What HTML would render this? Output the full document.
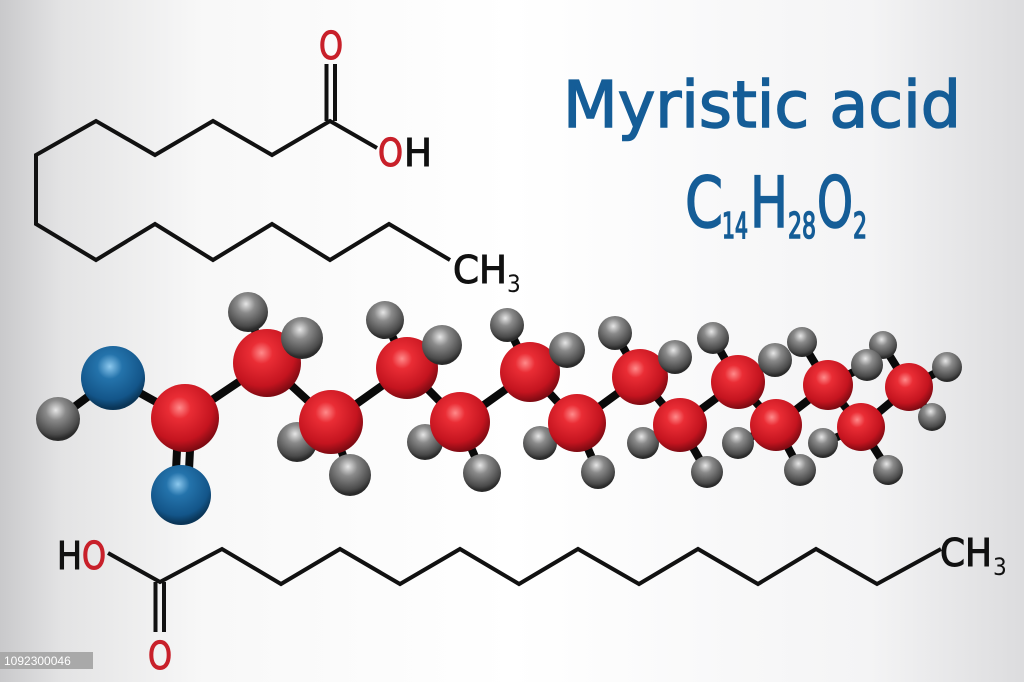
<!DOCTYPE html>
<html><head><meta charset="utf-8"><style>
html,body{margin:0;padding:0;}
body{width:1024px;height:682px;overflow:hidden;}
svg{display:block;}
</style></head><body>
<svg width="1024" height="682" viewBox="0 0 1024 682" xmlns="http://www.w3.org/2000/svg">
<defs>
<linearGradient id="bg" x1="0" x2="1" y1="0" y2="0">
<stop offset="0" stop-color="#c9c9cb"/><stop offset="0.06" stop-color="#e3e3e4"/><stop offset="0.2" stop-color="#f8f8f8"/><stop offset="0.5" stop-color="#ffffff"/><stop offset="0.85" stop-color="#f4f4f5"/><stop offset="1" stop-color="#dcdcde"/>
</linearGradient>
<radialGradient id="rd" cx="0.42" cy="0.35" r="0.65"><stop offset="0" stop-color="#ff8a8a"/><stop offset="0.25" stop-color="#ea2d35"/><stop offset="0.75" stop-color="#c4141f"/><stop offset="1" stop-color="#7e0a12"/></radialGradient>
<radialGradient id="bl" cx="0.45" cy="0.32" r="0.65"><stop offset="0" stop-color="#8cc8ee"/><stop offset="0.3" stop-color="#2473ab"/><stop offset="0.8" stop-color="#135589"/><stop offset="1" stop-color="#0a3557"/></radialGradient>
<radialGradient id="gr" cx="0.45" cy="0.3" r="0.65"><stop offset="0" stop-color="#e6e6e6"/><stop offset="0.35" stop-color="#8a8a8a"/><stop offset="0.85" stop-color="#4a4a4a"/><stop offset="1" stop-color="#2a2a2a"/></radialGradient>
</defs>
<rect width="1024" height="682" fill="url(#bg)"/>

<!-- top skeletal -->
<g fill="none" stroke="#111" stroke-width="4" stroke-linejoin="miter">
<polyline points="377,148 330,121 272,155 213,121 155,155 96,121 36,155 36,224 96,260 155,224 213,260 272,224 330,260 389,224 450,260"/>
<line x1="326.5" y1="121" x2="326.5" y2="64"/><line x1="335" y1="121" x2="335" y2="64"/>
<polyline points="108,553 160,582 222,549 281,584 340,549 400,584 460,549 519,584 578,549 639,584 698,549 758,584 816,549 877,584 941,549"/>
<line x1="155.5" y1="582" x2="155.5" y2="632"/><line x1="164" y1="582" x2="164" y2="632"/>
</g>
<g font-family="DejaVu Sans Condensed, DejaVu Sans, sans-serif" font-size="38" stroke-width="1">
<text x="331" y="59" fill="#c8202a" stroke="#c8202a" text-anchor="middle" textLength="24" lengthAdjust="spacingAndGlyphs">O</text>
<text x="378" y="166" fill="#c8202a" stroke="#c8202a" textLength="25" lengthAdjust="spacingAndGlyphs">O</text>
<text x="404" y="166" fill="#111" stroke="#111" textLength="28" lengthAdjust="spacingAndGlyphs">H</text>
<text x="453" y="283" fill="#111" stroke="#111" textLength="54" lengthAdjust="spacingAndGlyphs">CH</text>
<text x="507" y="292" fill="#111" font-size="24">3</text>
<text x="57" y="569" fill="#111" stroke="#111" textLength="25" lengthAdjust="spacingAndGlyphs">H</text>
<text x="82" y="569" fill="#c8202a" stroke="#c8202a" textLength="24" lengthAdjust="spacingAndGlyphs">O</text>
<text x="160" y="669" fill="#c8202a" stroke="#c8202a" text-anchor="middle" textLength="24" lengthAdjust="spacingAndGlyphs">O</text>
<text x="940" y="566" fill="#111" stroke="#111" textLength="52" lengthAdjust="spacingAndGlyphs">CH</text>
<text x="993" y="575" fill="#111" font-size="24">3</text>
</g>

<!-- title -->
<text x="563" y="127" font-family="DejaVu Sans, sans-serif" font-size="64" fill="#155d97" stroke="#155d97" stroke-width="1.5" textLength="398" lengthAdjust="spacingAndGlyphs">Myristic acid</text>
<g font-family="DejaVu Sans Condensed, DejaVu Sans, sans-serif" fill="#155d97" stroke="#155d97" stroke-width="1.5">
<text x="685" y="227" font-size="70" textLength="38" lengthAdjust="spacingAndGlyphs">C</text>
<text x="722" y="238" font-size="36" textLength="26" lengthAdjust="spacingAndGlyphs">14</text>
<text x="750" y="227" font-size="70" textLength="38" lengthAdjust="spacingAndGlyphs">H</text>
<text x="788" y="238" font-size="36" textLength="28" lengthAdjust="spacingAndGlyphs">28</text>
<text x="817" y="227" font-size="70" textLength="36" lengthAdjust="spacingAndGlyphs">O</text>
<text x="853" y="238" font-size="36" textLength="14" lengthAdjust="spacingAndGlyphs">2</text>
</g>

<!-- ball-and-stick bonds -->
<g stroke="#0a0a0a" stroke-width="8" stroke-linecap="round">
<line x1="58" y1="419" x2="113" y2="378"/><line x1="113" y1="378" x2="185" y2="418"/>
<line x1="178" y1="430" x2="175" y2="490"/><line x1="191" y1="430" x2="188" y2="490"/>
<polyline fill="none" points="185,418 267,363 331,422 407,368 460,422 530,372 577,423 640,377 680,425 738,382 776,425 828,385 861,427 909,387"/>
<line x1="267" y1="363" x2="248" y2="312"/><line x1="267" y1="363" x2="302" y2="338"/>
<line x1="331" y1="422" x2="297" y2="442"/><line x1="331" y1="422" x2="350" y2="475"/>
<line x1="407" y1="368" x2="385" y2="320"/><line x1="407" y1="368" x2="442" y2="345"/>
<line x1="460" y1="422" x2="425" y2="442"/><line x1="460" y1="422" x2="482" y2="473"/>
<line x1="530" y1="372" x2="507" y2="325"/><line x1="530" y1="372" x2="567" y2="350"/>
<line x1="577" y1="423" x2="540" y2="443"/><line x1="577" y1="423" x2="598" y2="472"/>
<line x1="640" y1="377" x2="615" y2="333"/><line x1="640" y1="377" x2="675" y2="357"/>
<line x1="680" y1="425" x2="643" y2="443"/><line x1="680" y1="425" x2="707" y2="472"/>
<line x1="738" y1="382" x2="713" y2="338"/><line x1="738" y1="382" x2="775" y2="360"/>
<line x1="776" y1="425" x2="738" y2="443"/><line x1="776" y1="425" x2="800" y2="470"/>
<line x1="828" y1="385" x2="802" y2="342"/><line x1="828" y1="385" x2="867" y2="365"/>
<line x1="861" y1="427" x2="823" y2="443"/><line x1="861" y1="427" x2="888" y2="470"/>
<line x1="909" y1="387" x2="883" y2="345"/><line x1="909" y1="387" x2="947" y2="367"/>
<line x1="909" y1="387" x2="932" y2="417"/>
</g>
<!-- back H -->
<g fill="url(#gr)">
<circle cx="248" cy="312" r="20"/><circle cx="297" cy="442" r="20"/>
<circle cx="385" cy="320" r="19"/><circle cx="425" cy="442" r="18"/>
<circle cx="507" cy="325" r="17"/><circle cx="540" cy="443" r="17"/>
<circle cx="615" cy="333" r="17"/><circle cx="643" cy="443" r="16"/>
<circle cx="713" cy="338" r="16"/><circle cx="738" cy="443" r="16"/>
<circle cx="802" cy="342" r="15"/><circle cx="823" cy="443" r="15"/>
<circle cx="883" cy="345" r="14"/>
<circle cx="58" cy="419" r="22"/>
</g>
<!-- heavy atoms -->
<circle cx="113" cy="378" r="32" fill="url(#bl)"/>
<circle cx="181" cy="495" r="30" fill="url(#bl)"/>
<g fill="url(#rd)">
<circle cx="185" cy="418" r="34"/><circle cx="267" cy="363" r="34"/><circle cx="331" cy="422" r="32"/>
<circle cx="407" cy="368" r="31"/><circle cx="460" cy="422" r="30"/><circle cx="530" cy="372" r="30"/>
<circle cx="577" cy="423" r="29"/><circle cx="640" cy="377" r="28"/><circle cx="680" cy="425" r="27"/>
<circle cx="738" cy="382" r="27"/><circle cx="776" cy="425" r="26"/><circle cx="828" cy="385" r="25"/>
<circle cx="861" cy="427" r="24"/><circle cx="909" cy="387" r="24"/>
</g>
<!-- front H -->
<g fill="url(#gr)">
<circle cx="302" cy="338" r="21"/><circle cx="350" cy="475" r="21"/>
<circle cx="442" cy="345" r="20"/><circle cx="482" cy="473" r="19"/>
<circle cx="567" cy="350" r="18"/><circle cx="598" cy="472" r="17"/>
<circle cx="675" cy="357" r="17"/><circle cx="707" cy="472" r="16"/>
<circle cx="775" cy="360" r="17"/><circle cx="800" cy="470" r="16"/>
<circle cx="867" cy="365" r="16"/><circle cx="888" cy="470" r="15"/>
<circle cx="947" cy="367" r="15"/><circle cx="932" cy="417" r="14"/>
</g>

<rect x="0" y="652" width="93" height="17" fill="#a9a9a9"/>
<text x="4" y="665" font-family="Liberation Sans, sans-serif" font-size="12" fill="#fff">1092300046</text>
</svg>
</body></html>
